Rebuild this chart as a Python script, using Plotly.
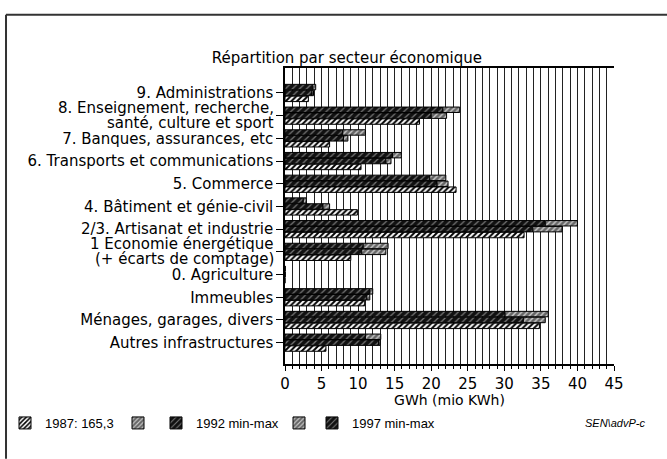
import plotly.graph_objects as go

# --- data (GWh) ---
categories = [
    "9. Administrations",
    "8. Enseignement, recherche,<br>santé, culture et sport",
    "7. Banques, assurances, etc",
    "6. Transports et communications",
    "5. Commerce",
    "4. Bâtiment et génie-civil",
    "2/3. Artisanat et industrie",
    "1 Economie énergétique<br>(+ écarts de comptage)",
    "0. Agriculture",
    "Immeubles",
    "Ménages, garages, divers",
    "Autres infrastructures",
]
v1987 = [3.2, 18.4, 6.1, 10.4, 23.4, 9.9, 32.7, 9.0, 0, 10.9, 34.8, 5.6]
min1992 = [3.7, 20.0, 8.0, 13.8, 20.8, 5.2, 33.9, 10.5, 0, 11.2, 32.6, 12.8]
max1992 = [3.9, 22.1, 8.6, 14.5, 22.3, 6.1, 37.9, 13.8, 0, 11.6, 35.6, 13.0]
min1997 = [3.8, 21.6, 7.9, 14.7, 19.8, 2.5, 35.6, 10.7, 0, 11.6, 30.1, 11.0]
max1997 = [4.2, 23.9, 11.0, 15.9, 22.0, 2.9, 40.0, 14.1, 0, 12.0, 36.0, 13.1]

FONT = "DejaVu Sans"
LFONT = "Liberation Sans"
W, H = 667, 459
hatch_white = dict(shape="/", bgcolor="white", fgcolor="black", size=4, solidity=0.5)
hatch_dark = dict(shape="/", bgcolor="#111111", fgcolor="#777777", size=5, solidity=0.25)
hatch_gray = dict(shape="/", bgcolor="#666666", fgcolor="#cccccc", size=4, solidity=0.35)
line = dict(color="black", width=1)

fig = go.Figure()

# each legend key sits in its own one-item legend (left edge in px)
legend_x = {"legend": 5, "legend2": 118, "legend3": 156, "legend4": 279, "legend5": 312}

# top bar in each group = 1997, middle = 1992, bottom = 1987
for year, mins, maxs, lmin, lmax in [("1997", min1997, max1997, "legend5", "legend4"),
                                     ("1992", min1992, max1992, "legend3", "legend2")]:
    ext = [b - a for a, b in zip(mins, maxs)]
    fig.add_bar(y=categories, x=mins, orientation="h", offsetgroup=year,
                name=f"{year} min-max", legend=lmin,
                marker=dict(color="#111111", pattern=hatch_dark, line=line))
    fig.add_bar(y=categories, x=ext, base=mins, orientation="h", offsetgroup=year,
                name=" ", legend=lmax,
                marker=dict(color="#666666", pattern=hatch_gray, line=line))

fig.add_bar(y=categories, x=v1987, orientation="h", offsetgroup="1987",
            name="1987: 165,3", legend="legend",
            marker=dict(color="white", pattern=hatch_white, line=line))

legend_style = dict(orientation="h", xref="container", yref="container",
                    y=1 - 423 / H, xanchor="left", yanchor="middle",
                    font=dict(family=LFONT, size=13, color="black"),
                    bgcolor="rgba(0,0,0,0)", borderwidth=0)

fig.update_layout(
    width=W, height=H,
    template="none",
    barmode="group", bargap=0.22, bargroupgap=0.08,
    plot_bgcolor="white", paper_bgcolor="white",
    font=dict(family=FONT, size=15, color="black"),
    margin=dict(l=285, r=53, t=68, b=95),
    title=dict(text="Répartition par secteur économique", xref="container", yref="container",
               x=0.52, y=1 - 58 / H, xanchor="center", yanchor="middle",
               font=dict(family=FONT, size=15, color="black")),
    showlegend=True,
    **{k: dict(legend_style, x=v / W) for k, v in legend_x.items()},
)

fig.update_xaxes(
    range=[0, 45], dtick=5, tick0=0, automargin=False,
    showgrid=True, gridcolor="#222222", gridwidth=1,
    minor=dict(dtick=1, showgrid=True, gridcolor="#222222", gridwidth=1,
               ticks="outside", ticklen=3, tickcolor="black"),
    ticks="outside", ticklen=5, tickcolor="black",
    showline=True, linecolor="black", linewidth=1.5, mirror=True,
    zeroline=False,
    title=dict(text="GWh (mio KWh)", font=dict(family=FONT, size=14)),
    tickfont=dict(family=FONT, size=15),
)
# two-line labels are drawn as annotations so the lines sit tight together
fig.update_yaxes(
    range=[11.94, -1.1], automargin=False, showgrid=False, zeroline=False,
    tickmode="array", tickvals=categories,
    ticktext=["" if "<br>" in c else c for c in categories],
    ticks="outside", ticklen=7, tickcolor="black",
    showline=True, linecolor="black", linewidth=1.5,
    tickfont=dict(family=FONT, size=15),
)
for c in categories:
    if "<br>" in c:
        for part, shift in zip(c.split("<br>"), (7.5, -7.5)):
            fig.add_annotation(text=part, xref="paper", yref="y", x=0, y=c,
                               xanchor="right", yanchor="middle", xshift=-9, yshift=shift,
                               showarrow=False, font=dict(family=FONT, size=15, color="black"))

# scanned frame: top and left edges
fig.add_shape(type="line", xref="paper", yref="paper", x0=-0.848, x1=1.2, y0=1.18, y1=1.18,
              line=dict(color="#333333", width=2))
fig.add_shape(type="line", xref="paper", yref="paper", x0=-0.848, x1=-0.848, y0=1.18, y1=-0.32,
              line=dict(color="#333333", width=2))

fig.add_annotation(text="<i>SEN\\advP-c</i>", xref="paper", yref="paper",
                   x=1.003, y=-0.198, xanchor="center", yanchor="middle", showarrow=False,
                   font=dict(family=LFONT, size=11, color="black"))

fig.write_html("out.html", config={"displayModeBar": False},
               post_script="document.body.style.margin='0';")
